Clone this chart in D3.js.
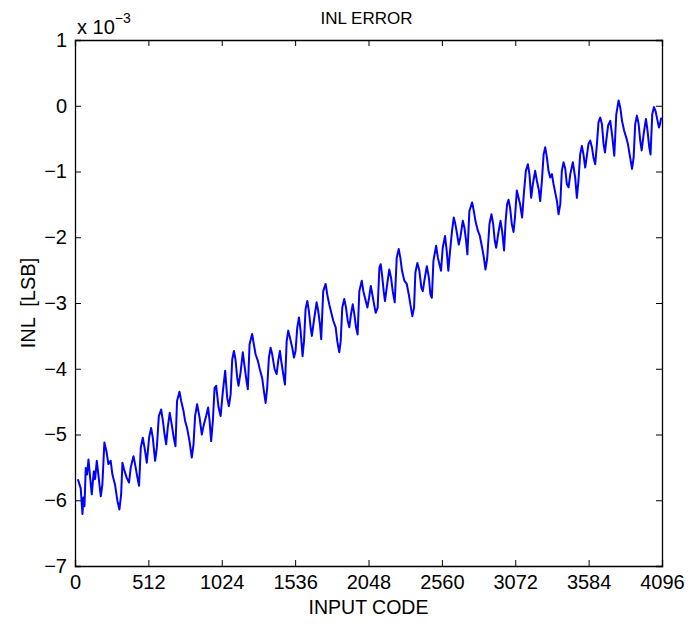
<!DOCTYPE html>
<html>
<head>
<meta charset="utf-8">
<script src="https://cdn.jsdelivr.net/npm/d3@7"></script>
<style>
  body { margin: 0; background: #fff; }
  text { font-family: "Liberation Sans", Arial, Helvetica, sans-serif; fill: #000; }
</style>
</head>
<body>
<div id="chart"></div>
<script>
'use strict';

// input codes (x) and INL in units of 1e-3 LSB (y)
const codes = [
  20, 40, 52, 59, 66, 75, 84, 94, 108, 117, 131, 140, 152, 163, 180, 191, 205, 219, 233, 249,
  261, 279, 296, 310, 322, 331, 345, 361, 377, 389, 408, 419, 436, 447, 459, 473, 489, 501, 517,
  531, 543, 559, 571, 585, 601, 613, 625, 636, 647, 661, 675, 689, 701, 712, 729, 741, 757, 768,
  782, 799, 815, 827, 838, 852, 869, 885, 899, 915, 929, 939, 950, 962, 974, 985, 1002, 1016, 1032,
  1048, 1062, 1074, 1086, 1097, 1109, 1120, 1132, 1141, 1155, 1171, 1183, 1197, 1206, 1218, 1236,
  1248, 1260, 1276, 1290, 1306, 1318, 1330, 1341, 1353, 1365, 1376, 1393, 1407, 1418, 1430, 1439,
  1453, 1465, 1477, 1488, 1500, 1516, 1528, 1539, 1551, 1563, 1574, 1588, 1598, 1609, 1621, 1632,
  1644, 1653, 1667, 1686, 1697, 1709, 1718, 1732, 1749, 1760, 1774, 1791, 1802, 1819, 1830, 1844,
  1854, 1865, 1879, 1891, 1903, 1914, 1926, 1938, 1949, 1961, 1972, 1984, 2001, 2012, 2029, 2040,
  2052, 2064, 2075, 2087, 2098, 2112, 2124, 2133, 2142, 2154, 2163, 2175, 2193, 2205, 2217, 2231,
  2245, 2259, 2270, 2282, 2298, 2315, 2329, 2340, 2354, 2366, 2375, 2389, 2403, 2417, 2427, 2438,
  2455, 2469, 2480, 2490, 2501, 2520, 2532, 2543, 2554, 2566, 2582, 2594, 2605, 2617, 2631, 2643,
  2654, 2666, 2678, 2689, 2706, 2717, 2729, 2738, 2752, 2771, 2783, 2794, 2811, 2825, 2841, 2853,
  2864, 2876, 2892, 2906, 2918, 2929, 2939, 2953, 2969, 2980, 2994, 3005, 3015, 3025, 3036, 3048,
  3060, 3070, 3083, 3095, 3106, 3120, 3132, 3146, 3160, 3171, 3183, 3195, 3211, 3223, 3237, 3246,
  3258, 3270, 3281, 3293, 3304, 3316, 3328, 3339, 3351, 3363, 3374, 3386, 3397, 3409, 3421, 3432,
  3444, 3456, 3474, 3490, 3502, 3513, 3525, 3537, 3548, 3560, 3572, 3583, 3595, 3607, 3618, 3630,
  3642, 3653, 3665, 3677, 3688, 3698, 3707, 3720, 3735, 3748, 3763, 3777, 3793, 3805, 3817, 3832,
  3846, 3858, 3874, 3887, 3898, 3909, 3921, 3933, 3944, 3954, 3968, 3984, 3995, 4007, 4016, 4028,
  4040, 4051, 4065, 4075, 4082, 4091
];
const inlValues = [
  -5.68, -5.82, -6.21, -5.96, -6.09, -5.51, -5.61, -5.38, -5.71, -5.91, -5.56, -5.68, -5.40, -5.61, -5.94, -5.76, -5.12, -5.25, -5.45, -5.40,
  -5.61, -5.76, -6.01, -6.14, -5.91, -5.43, -5.55, -5.66, -5.73, -5.50, -5.33, -5.45, -5.66, -5.78, -5.20, -5.05, -5.25, -5.43, -5.05,
  -4.90, -5.05, -5.40, -5.20, -4.72, -4.62, -4.79, -5.00, -5.15, -4.90, -4.67, -4.85, -5.05, -5.18, -4.49, -4.35, -4.49, -4.64, -4.79,
  -4.90, -5.10, -5.35, -5.15, -4.72, -4.54, -4.74, -5.00, -4.85, -4.72, -4.59, -4.79, -5.10, -4.79, -4.29, -4.26, -4.59, -4.72, -4.34,
  -4.03, -4.44, -4.57, -4.39, -3.86, -3.73, -3.86, -4.14, -4.26, -4.06, -3.75, -3.96, -4.19, -4.31, -3.63, -3.47,
  -3.63, -3.78, -3.88, -4.01, -4.14, -4.34, -4.52, -4.29, -3.83, -3.68, -3.78, -4.01, -4.08, -3.88, -3.73, -3.88,
  -4.08, -4.24, -3.58, -3.42, -3.53, -3.68, -3.83, -3.73, -3.37, -3.22, -3.42, -3.81, -3.58, -3.09, -2.97, -3.12,
  -3.37, -3.50, -3.27, -2.99, -3.12, -3.32, -3.55, -2.82, -2.71, -2.87, -3.02, -3.17, -3.27, -3.37, -3.58, -3.75,
  -3.58, -3.07, -2.94, -3.07, -3.27, -3.37, -3.17, -3.02, -3.17, -3.37, -3.48, -2.82, -2.66, -2.82, -2.97, -3.07,
  -2.92, -2.74, -2.87, -3.02, -3.15, -3.07, -2.46, -2.41, -2.56, -2.82, -2.97, -2.77, -2.49, -2.61, -2.82, -2.99,
  -2.31, -2.18, -2.31, -2.51, -2.66, -2.71, -2.87, -3.02, -3.20, -3.07, -2.54, -2.39, -2.51, -2.77, -2.82, -2.66,
  -2.44, -2.61, -2.87, -2.92, -2.36, -2.13, -2.31, -2.41, -2.51, -2.16, -1.98, -2.21, -2.51, -2.21, -1.90, -1.70,
  -1.80, -1.95, -2.11, -2.00, -1.75, -1.85, -2.05, -2.26, -1.60, -1.47, -1.60, -1.75, -1.90, -1.98, -2.16, -2.31,
  -2.49, -2.33, -1.80, -1.65, -1.80, -2.05, -2.16, -1.95, -1.75, -1.90, -2.20, -1.75, -1.50, -1.43, -1.55, -1.80,
  -1.92, -1.70, -1.29, -1.40, -1.50, -1.70, -1.34, -0.99, -0.89, -1.04, -1.40, -1.19, -0.99, -1.14, -1.29, -1.45,
  -1.14, -0.74, -0.63, -0.79, -0.99, -1.09, -1.04, -1.19, -1.32, -1.45, -1.65, -1.50, -0.99, -0.86, -0.96, -1.19,
  -1.24, -1.04, -0.86, -1.09, -1.40, -1.14, -0.74, -0.61, -0.74, -0.94, -0.76, -0.58, -0.53, -0.63, -0.79, -0.89,
  -0.58, -0.25, -0.18, -0.28, -0.58, -0.71, -0.53, -0.30, -0.23, -0.45, -0.76, -0.13, 0.08, -0.03, -0.23, -0.38,
  -0.48, -0.58, -0.79, -0.96, -0.79, -0.28, -0.15, -0.28, -0.53, -0.68, -0.43, -0.20, -0.38, -0.63, -0.74, -0.13,
  -0.02, -0.08, -0.23, -0.33, -0.28, -0.18
];

const xTicks = [0, 512, 1024, 1536, 2048, 2560, 3072, 3584, 4096];
const yTicks = [-7, -6, -5, -4, -3, -2, -1, 0, 1];
const titleText = 'INL ERROR';
const xLabelText = 'INPUT CODE';
const yLabelText = 'INL  [LSB]';

const W = 690, H = 624;
const margin = {top: 40, right: 28, bottom: 58, left: 75};
const width = W - margin.left - margin.right;
const height = H - margin.top - margin.bottom;

const x = d3.scaleLinear().domain([0, 4096]).range([0, width]);
const y = d3.scaleLinear().domain([-7, 1]).range([height, 0]);

const svg = d3.select('#chart').append('svg')
    .attr('width', W)
    .attr('height', H)
    .attr('viewBox', [0, 0, W, H]);

const g = svg.append('g')
    .attr('transform', `translate(${margin.left}, ${margin.top})`);

const fmt = d => (d < 0 ? '\u2212' + Math.abs(d) : String(d));

// bottom and left axes with inward ticks
g.append('g')
    .attr('transform', `translate(0, ${height})`)
    .call(d3.axisBottom(x).tickValues(xTicks).tickSize(-6).tickPadding(9).tickFormat(d => String(d)));
g.append('g')
    .call(d3.axisLeft(y).tickValues(yTicks).tickSize(-6).tickPadding(8).tickFormat(fmt));
// mirrored top and right axes
g.append('g')
    .call(d3.axisTop(x).tickValues(xTicks).tickSize(-6).tickFormat(''));
g.append('g')
    .attr('transform', `translate(${width}, 0)`)
    .call(d3.axisRight(y).tickValues(yTicks).tickSize(-6).tickFormat(''));

g.selectAll('.domain').attr('stroke', '#000').attr('stroke-width', 1.3);
g.selectAll('.tick line').attr('stroke', '#000');
g.selectAll('.tick text').style('font-size', '20px').attr('fill', '#000');

// the INL curve
const pts = codes.map((c, i) => [c, inlValues[i]]);
g.append('path')
    .datum(pts)
    .attr('fill', 'none')
    .attr('stroke', '#0000ff')
    .attr('stroke-width', 2)
    .attr('stroke-linejoin', 'round')
    .attr('d', d3.line().x(d => x(d[0])).y(d => y(d[1])));

// title and labels
svg.append('text')
    .attr('x', margin.left + width / 2 - 2)
    .attr('y', 24)
    .attr('text-anchor', 'middle')
    .style('font-size', '17px')
    .text(titleText);

svg.append('text')
    .attr('x', margin.left + width / 2)
    .attr('y', 614)
    .attr('text-anchor', 'middle')
    .style('font-size', '19.5px')
    .text(xLabelText);

svg.append('text')
    .attr('transform', `translate(35, ${margin.top + height / 2}) rotate(-90)`)
    .attr('text-anchor', 'middle')
    .style('font-size', '20px')
    .attr('xml:space', 'preserve')
    .style('white-space', 'pre')
    .text(yLabelText);

// exponent label
const expo = svg.append('text')
    .attr('x', margin.left + 2)
    .attr('y', 34)
    .style('font-size', '20px');
expo.append('tspan').text('x 10');
expo.append('tspan').attr('dy', -11).style('font-size', '14px').text('\u22123');
</script>
</body>
</html>
